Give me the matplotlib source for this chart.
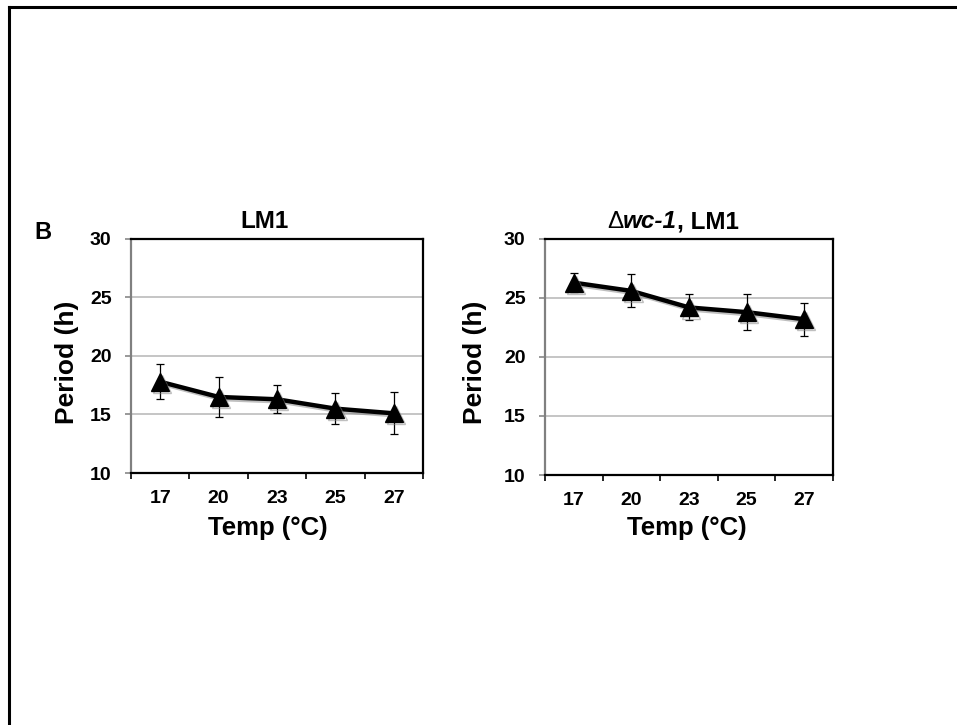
import matplotlib
matplotlib.use("Agg")
import matplotlib.pyplot as plt
import matplotlib.patheffects as pe
from matplotlib.lines import Line2D

plt.rcParams["font.family"] = ["Liberation Sans", "DejaVu Sans"]
plt.rcParams["font.weight"] = "bold"

temps = ["17", "20", "23", "25", "27"]
lm1_mean = [17.8, 16.5, 16.3, 15.5, 15.1]
lm1_err = [1.5, 1.7, 1.2, 1.3, 1.8]
wc1_mean = [26.3, 25.6, 24.2, 23.8, 23.2]
wc1_err = [0.8, 1.4, 1.1, 1.5, 1.4]
yticks = [10, 15, 20, 25, 30]

W, H = 957, 725
fig = plt.figure(figsize=(W / 100, H / 100), dpi=100)


def px(x, y):
    return x / W, 1 - y / H


# outer frame (only top and left visible)
fig.add_artist(Line2D([9 / W, 1], [1 - 7 / H] * 2, color="black", lw=2.2))
fig.add_artist(Line2D([9 / W] * 2, [0, 1 - 7 / H], color="black", lw=2.2))


def panel(rect, mean, err):
    ax = fig.add_axes(rect)
    x = list(range(len(temps)))
    ax.errorbar(x, mean, yerr=err, fmt="none", ecolor="black",
                elinewidth=0.9, capsize=3, capthick=0.9, zorder=3)
    ax.plot(x, mean, color="black", lw=3.2, marker="^", ms=13,
            zorder=4,
            path_effects=[pe.SimpleLineShadow(offset=(1.5, -1.5),
                                              shadow_color="gray", alpha=0.5),
                          pe.Normal()])
    ax.set_xlim(-0.5, len(temps) - 0.5)
    ax.set_ylim(10, 30)
    ax.set_yticks(yticks)
    ax.set_yticklabels([str(v) for v in yticks], fontsize=14, fontweight="bold")
    ax.set_xticks(x)
    ax.set_xticklabels(temps, fontsize=14, fontweight="bold")
    ax.set_xticks([i - 0.5 for i in range(len(temps) + 1)], minor=True)
    ax.tick_params(axis="x", which="major", length=0, pad=12)
    ax.tick_params(axis="x", which="minor", length=4, width=1.2,
                   color="black", direction="out")
    ax.tick_params(axis="y", length=4, width=1.2, color="#888888",
                   direction="out", pad=10)
    for v in yticks[1:-1]:
        ax.axhline(v, color="#b5b5b5", lw=1.1, zorder=1)
    for s in ["top", "right", "bottom"]:
        ax.spines[s].set_color("black")
        ax.spines[s].set_linewidth(1.6)
    ax.spines["left"].set_color("#808080")
    ax.spines["left"].set_linewidth(1.6)
    return ax


x0, y0 = px(131, 473)
x1, y1 = px(423, 239)
panel([x0, y0, x1 - x0, y1 - y0], lm1_mean, lm1_err)
x0, y0 = px(545, 475)
x1, y1 = px(833, 239)
panel([x0, y0, x1 - x0, y1 - y0], wc1_mean, wc1_err)

# labels
for cx, cy in [(67, 362), (475, 362)]:
    fig.text(*px(cx, cy), "Period (h)", rotation=90, ha="center", va="center",
             fontsize=19, fontweight="bold")
for cx in [268, 687]:
    fig.text(*px(cx, 528), "Temp (°C)", ha="center", va="center",
             fontsize=18.5, fontweight="bold")
fig.text(*px(43, 232), "B", ha="center", va="center", fontsize=17,
         fontweight="bold")
fig.text(*px(265, 222), "LM1", ha="center", va="center", fontsize=17.5,
         fontweight="bold")

# right title with mixed styles
parts = [("Δ", dict(fontweight="normal")),
         ("wc-1", dict(fontweight="bold", fontstyle="italic")),
         (", LM1", dict(fontweight="bold"))]
r = fig.canvas.get_renderer()
ty = px(0, 222)[1]
texts = [fig.text(0, ty, s, va="center", ha="left", fontsize=17.5, **p)
         for s, p in parts]
widths = [t.get_window_extent(r).width for t in texts]
cur = 673 - sum(widths) / 2
for t, w in zip(texts, widths):
    t.set_x(cur / W)
    cur += w

fig.savefig("out.png", dpi=100)
